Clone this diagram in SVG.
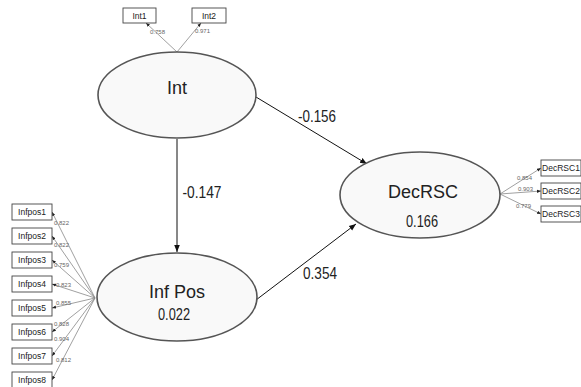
<svg xmlns="http://www.w3.org/2000/svg" width="581" height="387" viewBox="0 0 581 387">
<defs>
<marker id="ah" viewBox="0 0 10 10" refX="10" refY="5" markerWidth="7" markerHeight="7" markerUnits="userSpaceOnUse" orient="auto"><path d="M0,1 L10,5 L0,9 z" fill="#111"/></marker>
<marker id="ahs" viewBox="0 0 10 10" refX="10" refY="5" markerWidth="4" markerHeight="4" markerUnits="userSpaceOnUse" orient="auto"><path d="M0,1 L10,5 L0,9 z" fill="#222"/></marker>
</defs>
<style>
.lat{fill:#f9f9f9;stroke:#555;stroke-width:1.6}
.box{fill:#fff;stroke:#444;stroke-width:0.9}
.big{font-family:"Liberation Sans",Arial,sans-serif;font-size:18px;fill:#222;text-anchor:middle}
.num{font-family:"Liberation Sans",Arial,sans-serif;font-size:16px;fill:#222;text-anchor:middle}
.ind{font-family:"Liberation Sans",Arial,sans-serif;font-size:8.5px;fill:#222;text-anchor:middle}
.ld{font-family:"Liberation Sans",Arial,sans-serif;font-size:6px;fill:#666}
.path{stroke:#111;stroke-width:1;fill:none;marker-end:url(#ah)}
.il{stroke:#888;stroke-width:0.8;fill:none;marker-end:url(#ahs)}
</style>
<rect width="581" height="387" fill="#fff"/>
<g id="connectors">
<line class="path" x1="177" y1="139" x2="177" y2="252"/>
<line class="path" x1="256" y1="97" x2="367" y2="164"/>
<line class="path" x1="256" y1="300" x2="356" y2="224"/>
<line class="il" x1="177" y1="52" x2="146" y2="23"/>
<line class="il" x1="177" y1="52" x2="201" y2="23"/>
<line class="il" x1="95" y1="298" x2="52" y2="212"/>
<line class="il" x1="95" y1="298" x2="52" y2="236"/>
<line class="il" x1="95" y1="298" x2="52" y2="260"/>
<line class="il" x1="95" y1="298" x2="52" y2="284"/>
<line class="il" x1="95" y1="298" x2="52" y2="308"/>
<line class="il" x1="95" y1="298" x2="52" y2="332"/>
<line class="il" x1="95" y1="298" x2="52" y2="356"/>
<line class="il" x1="95" y1="298" x2="52" y2="380"/>
<line class="il" x1="500" y1="194" x2="541" y2="168"/>
<line class="il" x1="500" y1="194" x2="541" y2="191"/>
<line class="il" x1="500" y1="194" x2="541" y2="214"/>
<text class="num" x="317" y="122" textLength="38" lengthAdjust="spacingAndGlyphs">-0.156</text>
<text class="num" x="202" y="198" textLength="39" lengthAdjust="spacingAndGlyphs">-0.147</text>
<text class="num" x="320" y="279" textLength="34" lengthAdjust="spacingAndGlyphs">0.354</text>
<text class="ld" x="150" y="34">0.758</text>
<text class="ld" x="195" y="33">0.971</text>
<text class="ld" x="54" y="225">0.822</text>
<text class="ld" x="54" y="247">0.822</text>
<text class="ld" x="54" y="267">0.759</text>
<text class="ld" x="56" y="287">0.823</text>
<text class="ld" x="56" y="305">0.855</text>
<text class="ld" x="54" y="326">0.828</text>
<text class="ld" x="54" y="341">0.904</text>
<text class="ld" x="56" y="362">0.812</text>
<text class="ld" x="517" y="180">0.854</text>
<text class="ld" x="518" y="191">0.903</text>
<text class="ld" x="516" y="208">0.779</text>
</g>
<g id="Int">
<ellipse class="lat" cx="177" cy="95" rx="79" ry="43"/>
<text class="big" x="177" y="94">Int</text>
</g>
<g id="InfPos">
<ellipse class="lat" cx="177" cy="297" rx="80" ry="44"/>
<text class="big" x="177" y="298">Inf Pos</text>
<text class="num" x="174" y="320" textLength="32" lengthAdjust="spacingAndGlyphs">0.022</text>
</g>
<g id="DecRSC">
<ellipse class="lat" cx="420" cy="195" rx="80" ry="43"/>
<text class="big" x="423" y="198">DecRSC</text>
<text class="num" x="422" y="227" textLength="32" lengthAdjust="spacingAndGlyphs">0.166</text>
</g>
<g id="Int1"><rect class="box" x="123" y="8" width="33" height="15"/><text class="ind" x="139.5" y="19">Int1</text></g>
<g id="Int2"><rect class="box" x="192" y="8" width="34" height="15"/><text class="ind" x="209" y="19">Int2</text></g>
<g id="Infpos1"><rect class="box" x="12" y="204" width="40" height="16"/><text class="ind" x="32" y="215">Infpos1</text></g>
<g id="Infpos2"><rect class="box" x="12" y="228" width="40" height="16"/><text class="ind" x="32" y="239">Infpos2</text></g>
<g id="Infpos3"><rect class="box" x="12" y="252" width="40" height="16"/><text class="ind" x="32" y="263">Infpos3</text></g>
<g id="Infpos4"><rect class="box" x="12" y="276" width="40" height="16"/><text class="ind" x="32" y="287">Infpos4</text></g>
<g id="Infpos5"><rect class="box" x="12" y="300" width="40" height="16"/><text class="ind" x="32" y="311">Infpos5</text></g>
<g id="Infpos6"><rect class="box" x="12" y="324" width="40" height="16"/><text class="ind" x="32" y="335">Infpos6</text></g>
<g id="Infpos7"><rect class="box" x="12" y="348" width="40" height="16"/><text class="ind" x="32" y="359">Infpos7</text></g>
<g id="Infpos8"><rect class="box" x="12" y="372" width="40" height="16"/><text class="ind" x="32" y="383">Infpos8</text></g>
<g id="DecRSC1"><rect class="box" x="541" y="160" width="40" height="16"/><text class="ind" x="561" y="171">DecRSC1</text></g>
<g id="DecRSC2"><rect class="box" x="541" y="183" width="40" height="16"/><text class="ind" x="561" y="194">DecRSC2</text></g>
<g id="DecRSC3"><rect class="box" x="541" y="206" width="40" height="16"/><text class="ind" x="561" y="217">DecRSC3</text></g>
</svg>
